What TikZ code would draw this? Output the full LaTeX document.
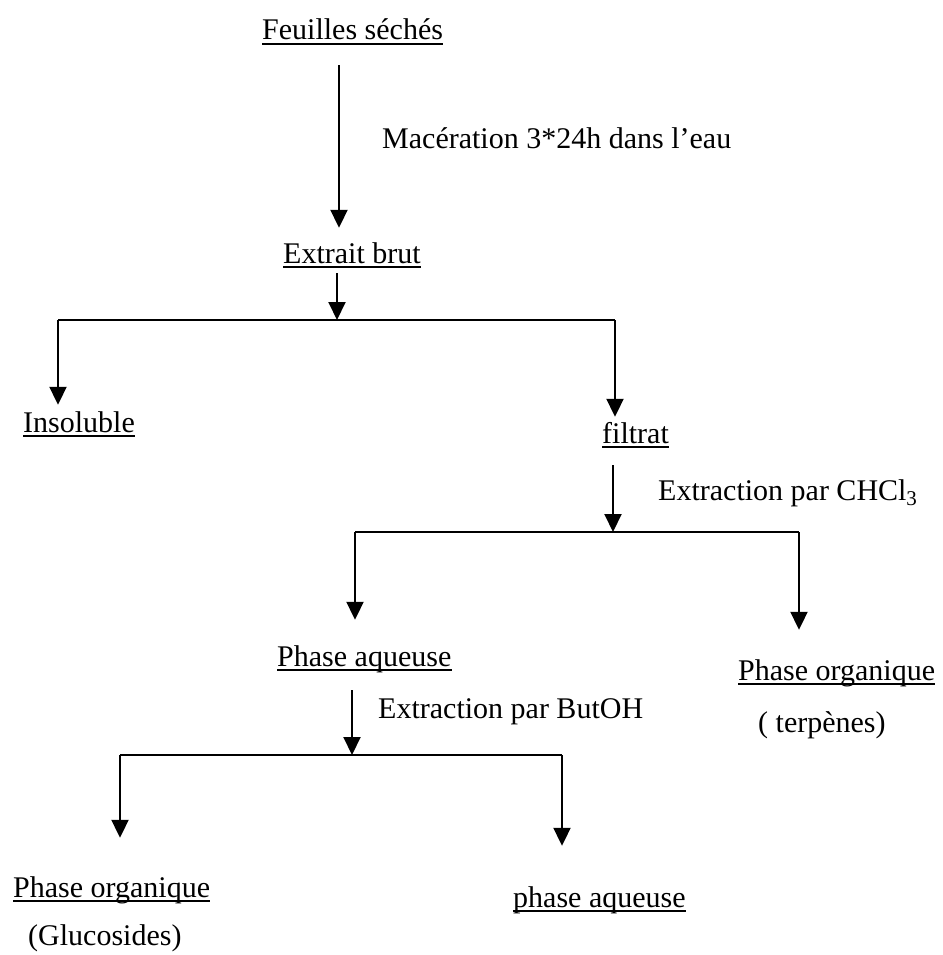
\documentclass[tikz,border=0pt]{standalone}
\usepackage{fontspec}
\setmainfont{Liberation Serif}
\usetikzlibrary{arrows.meta,calc}
\begin{document}
\begin{tikzpicture}[x=1pt,y=-1pt,
  txt/.style={inner sep=0pt,anchor=base west,text height=21pt,text depth=7pt,
    font=\fontsize{30pt}{36pt}\selectfont},
  conn/.style={line width=2pt,draw=black},
  arr/.style={conn,-{Triangle[width=17pt,length=18pt]}},
  ul/.style={line width=1.3pt,draw=black}]
\useasboundingbox[fill=white] (0,0) rectangle (942,955);
% text nodes
\node[txt] (fs)   at (262,40)  {Feuilles séchés};
\node[txt] (mac)  at (382,148) {Macération 3*24h dans l’eau};
\node[txt] (eb)   at (283,263) {Extrait brut};
\node[txt] (ins)  at (23,432)  {Insoluble};
\node[txt] (fil)  at (602,443) {filtrat};
\node[txt] (ext1) at (658,500) {Extraction par CHCl\textsubscript{3}};
\node[txt] (pa)   at (277,666) {Phase aqueuse};
\node[txt] (po1)  at (738,680) {Phase organique};
\node[txt] (terp) at (758,732) {( terpènes)};
\node[txt] (ext2) at (378,718) {Extraction par ButOH};
\node[txt] (po2)  at (13,897)  {Phase organique};
\node[txt] (gluc) at (28,945)  {(Glucosides)};
\node[txt] (paq)  at (513,907) {phase aqueuse};
% underlines
\foreach \n in {fs,eb,ins,fil,pa,po1,po2,paq}
  \draw[ul] ($(\n.base west)+(0,4)$) -- ($(\n.base east)+(0,4)$);
% columns and junctions
\coordinate (c1) at (339,0);
\coordinate (k1) at (337,320);
\coordinate (k1l) at (58,320);
\coordinate (k1r) at (615,320);
\coordinate (k2) at (613,532);
\coordinate (k2l) at (355,532);
\coordinate (k2r) at (799,532);
\coordinate (k3) at (352,755);
\coordinate (k3l) at (120,755);
\coordinate (k3r) at (562,755);
% connectors
\draw[arr] ($(fs.south -| c1)+(0,18)$) -- ($(eb.north -| c1)+(0,-14)$);
\draw[arr] ($(eb.south -| k1)+(0,3)$) -- (k1);
\draw[conn] (k1l) -- (k1r);
\draw[arr] (k1l) -- ($(ins.north -| k1l)+(0,-6)$);
\draw[arr] (k1r) -- ($(fil.north -| k1r)+(0,-5)$);
\draw[arr] ($(fil.south -| k2)+(0,15)$) -- (k2);
\draw[conn] (k2l) -- (k2r);
\draw[arr] (k2l) -- ($(pa.north -| k2l)+(0,-25)$);
\draw[arr] (k2r) -- ($(po1.north -| k2r)+(0,-29)$);
\draw[arr] ($(pa.south -| k3)+(0,17)$) -- (k3);
\draw[conn] (k3l) -- (k3r);
\draw[arr] (k3l) -- ($(po2.north -| k3l)+(0,-38)$);
\draw[arr] (k3r) -- ($(paq.north -| k3r)+(0,-40)$);
\end{tikzpicture}
\end{document}
